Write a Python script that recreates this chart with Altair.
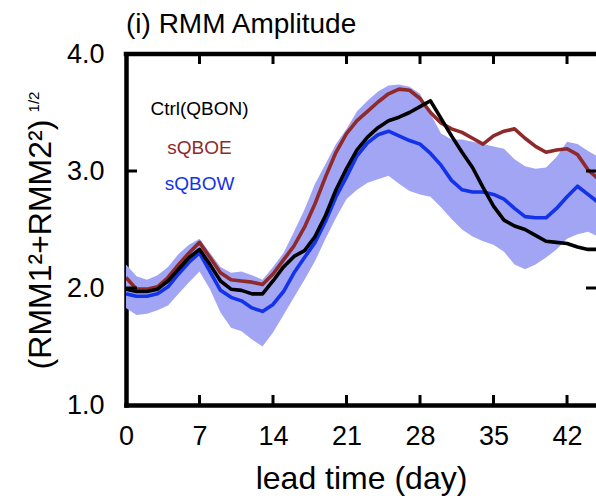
import altair as alt
import pandas as pd

# ---------------- data ----------------
days = list(range(46))

ctrl = [1.99, 1.97, 1.97, 1.99, 2.06, 2.16, 2.26, 2.33, 2.20, 2.06,
        1.99, 1.98, 1.95, 1.95, 2.06, 2.18, 2.27, 2.32, 2.44, 2.62,
        2.84, 3.02, 3.18, 3.29, 3.37, 3.43, 3.46, 3.50, 3.55, 3.60,
        3.45, 3.30, 3.16, 3.03, 2.86, 2.70, 2.58, 2.53, 2.50, 2.45,
        2.40, 2.39, 2.38, 2.35, 2.33, 2.33]

sqboe = [2.09, 1.99, 1.99, 2.01, 2.09, 2.20, 2.30, 2.39, 2.26, 2.13,
         2.07, 2.06, 2.05, 2.03, 2.12, 2.24, 2.36, 2.52, 2.72, 2.95,
         3.16, 3.32, 3.43, 3.51, 3.59, 3.66, 3.70, 3.69, 3.62, 3.50,
         3.41, 3.36, 3.33, 3.28, 3.23, 3.30, 3.34, 3.36, 3.28, 3.21,
         3.16, 3.18, 3.19, 3.14, 3.01, 2.93]

sqbow = [1.95, 1.93, 1.93, 1.95, 2.01, 2.12, 2.22, 2.30, 2.14, 1.98,
         1.92, 1.89, 1.83, 1.80, 1.86, 1.97, 2.13, 2.26, 2.39, 2.57,
         2.78, 2.95, 3.13, 3.24, 3.31, 3.34, 3.30, 3.26, 3.23, 3.15,
         3.05, 2.92, 2.84, 2.82, 2.82, 2.80, 2.76, 2.68, 2.61, 2.60,
         2.60, 2.68, 2.78, 2.87, 2.80, 2.73]

band_lo = [1.83, 1.77, 1.78, 1.81, 1.85, 1.95, 2.05, 2.14, 1.99, 1.79,
           1.66, 1.63, 1.56, 1.50, 1.62, 1.77, 1.92, 2.07, 2.23, 2.42,
           2.60, 2.76, 2.84, 2.90, 2.93, 2.96, 2.89, 2.83, 2.80, 2.78,
           2.69, 2.59, 2.50, 2.44, 2.40, 2.37, 2.31, 2.20, 2.16, 2.20,
           2.26, 2.33, 2.42, 2.46, 2.48, 2.44]

band_hi = [2.20, 2.10, 2.07, 2.11, 2.18, 2.29, 2.37, 2.42, 2.30, 2.18,
           2.13, 2.14, 2.11, 2.07, 2.18, 2.30, 2.48, 2.67, 2.89, 3.06,
           3.23, 3.36, 3.51, 3.60, 3.68, 3.73, 3.74, 3.72, 3.66, 3.49,
           3.32, 3.27, 3.27, 3.25, 3.23, 3.21, 3.19, 3.10, 3.04, 3.02,
           3.03, 3.12, 3.25, 3.23, 3.17, 3.12]

series_names = ["Ctrl(QBON)", "sQBOE", "sQBOW"]
series_colors = ["#000000", "#8f2a2a", "#1233ea"]
label_day = [7, 7, 7]
label_val = [3.53, 3.20, 2.89]

x_tick_values = [0, 7, 14, 21, 28, 35, 42]
inner_x_ticks = [7, 14, 21, 28, 35, 42]
inner_y_ticks = [2.0, 3.0]
y_tick_values = [1.0, 2.0, 3.0, 4.0]

# ---------------- layout ----------------
W, H = 470, 351
X_MAX = 44.76
FONT = "Liberation Sans"
BAND_COLOR = "#a2a5f3"
FRAME_W = 4.5

rows = []
for name, vals in zip(series_names, [ctrl, sqboe, sqbow]):
    for d, v in zip(days, vals):
        rows.append({"day": d, "value": v, "series": name})
lines_df = pd.DataFrame(rows)
band_df = pd.DataFrame({"day": days, "lo": band_lo, "hi": band_hi})
labels_df = pd.DataFrame({"series": series_names, "day": label_day, "value": label_val})
xt_df = pd.DataFrame({"t": inner_x_ticks})
yt_df = pd.DataFrame({"v": inner_y_ticks})
one_df = pd.DataFrame({"t": ["1/2"]})

xscale = alt.Scale(domain=[0, X_MAX], nice=False, zero=False)
yscale = alt.Scale(domain=[1.0, 4.0], nice=False, zero=False)
cscale = alt.Scale(domain=series_names, range=series_colors)

x_axis = alt.Axis(
    values=x_tick_values, format="d", title="lead time (day)",
    labelFontSize=27, labelFont=FONT, labelColor="black", labelPadding=18,
    labelFlush=False, ticks=False, tickSize=0, grid=False,
    domainColor="black", domainWidth=FRAME_W, domainCap="square",
    titleFontSize=32, titleFont=FONT, titleFontWeight="normal", titleColor="black",
    titleY=83, titleBaseline="alphabetic",
)
y_axis = alt.Axis(
    values=y_tick_values, format=".1f", title="(RMM1²+RMM2²)",
    labelFontSize=27, labelFont=FONT, labelColor="black", labelPadding=22,
    ticks=False, tickSize=0, grid=False,
    domainColor="black", domainWidth=FRAME_W, domainCap="square",
    titleFontSize=32, titleFont=FONT, titleFontWeight="normal", titleColor="black",
    titleAngle=270, titleX=-76, titleY=190, titleAlign="center", titleBaseline="alphabetic",
)

band = alt.Chart(band_df).mark_area(color=BAND_COLOR, opacity=1, clip=True).encode(
    x=alt.X("day:Q", scale=xscale, axis=x_axis),
    y=alt.Y("lo:Q", scale=yscale, axis=y_axis),
    y2="hi:Q",
)

def line_layer(name):
    return alt.Chart(lines_df[lines_df.series == name]).mark_line(
        strokeWidth=3.6, clip=True, strokeJoin="round"
    ).encode(
        x=alt.X("day:Q", scale=xscale),
        y=alt.Y("value:Q", scale=yscale),
        color=alt.Color("series:N", scale=cscale, legend=None),
    )

labels = alt.Chart(labels_df).mark_text(fontSize=19, font=FONT, align="center", baseline="middle").encode(
    x=alt.X("day:Q", scale=xscale),
    y=alt.Y("value:Q", scale=yscale),
    text="series:N",
    color=alt.Color("series:N", scale=cscale, legend=None),
)

tick_len = 10
bottom_ticks = alt.Chart(xt_df).mark_rule(color="black", strokeWidth=3).encode(
    x=alt.X("t:Q", scale=xscale), y=alt.value(H), y2=alt.value(H - tick_len))
top_ticks = alt.Chart(xt_df).mark_rule(color="black", strokeWidth=3).encode(
    x=alt.X("t:Q", scale=xscale), y=alt.value(0), y2=alt.value(tick_len))
left_ticks = alt.Chart(yt_df).mark_rule(color="black", strokeWidth=3).encode(
    y=alt.Y("v:Q", scale=yscale), x=alt.value(0), x2=alt.value(tick_len + 1))
right_ticks = alt.Chart(yt_df).mark_rule(color="black", strokeWidth=3).encode(
    y=alt.Y("v:Q", scale=yscale), x=alt.value(W - tick_len), x2=alt.value(W + 2))
top_frame = alt.Chart(one_df).mark_rule(color="black", strokeWidth=FRAME_W).encode(
    x=alt.value(-FRAME_W / 2), x2=alt.value(W + 5), y=alt.value(0))
half_power = alt.Chart(one_df).mark_text(
    fontSize=15, font=FONT, angle=270, align="center", baseline="middle", color="black"
).encode(text="t:N", x=alt.value(-92), y=alt.value(48))

chart = alt.layer(
    band, line_layer("sQBOW"), line_layer("sQBOE"), line_layer("Ctrl(QBON)"),
    labels, bottom_ticks, top_ticks, left_ticks, right_ticks, top_frame, half_power,
).properties(
    width=W, height=H,
    padding={"left": 126, "top": 54, "right": 0, "bottom": 95},
    autosize=alt.AutoSizeParams(type="none"),
    title=alt.Title("(i) RMM Amplitude", anchor="start", frame="group", fontSize=28,
                    font=FONT, fontWeight="normal", color="black", offset=1),
).configure_view(stroke=None).configure(background="white")

chart.save("out.html", embed_options={"renderer": "svg", "actions": False})
